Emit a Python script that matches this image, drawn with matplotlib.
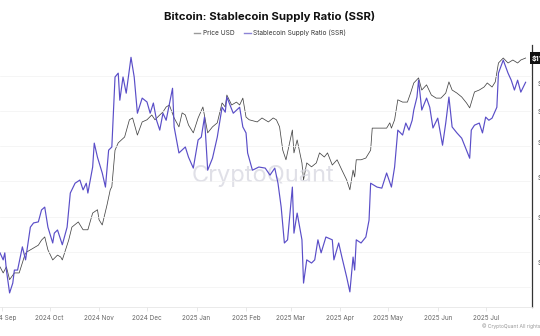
import matplotlib
matplotlib.use("Agg")
import matplotlib.pyplot as plt
import matplotlib.dates as mdates
import matplotlib.transforms as mtransforms
from matplotlib.lines import Line2D
from matplotlib.ticker import FixedLocator, NullLocator
import pandas as pd

plt.rcParams['font.family'] = ['Inter', 'DejaVu Sans']

# Stablecoin Supply Ratio (left axis, labels outside the crop)
ssr_dates = [
    "2024-08-31", "2024-09-02", "2024-09-03", "2024-09-04", "2024-09-06", "2024-09-08", "2024-09-09", "2024-09-11", "2024-09-14", "2024-09-16",
    "2024-09-19", "2024-09-21", "2024-09-24", "2024-09-26", "2024-09-28", "2024-09-30", "2024-10-03", "2024-10-04", "2024-10-06", "2024-10-09",
    "2024-10-12", "2024-10-14", "2024-10-17", "2024-10-20", "2024-10-22", "2024-10-24", "2024-10-25", "2024-10-28", "2024-10-29", "2024-10-31",
    "2024-11-03", "2024-11-05", "2024-11-07", "2024-11-09", "2024-11-11", "2024-11-13", "2024-11-14", "2024-11-16", "2024-11-18", "2024-11-21",
    "2024-11-23", "2024-11-25", "2024-11-28", "2024-12-01", "2024-12-03", "2024-12-05", "2024-12-07", "2024-12-09", "2024-12-11", "2024-12-13",
    "2024-12-17", "2024-12-18", "2024-12-21", "2024-12-25", "2024-12-27", "2024-12-30", "2025-01-02", "2025-01-04", "2025-01-06", "2025-01-08",
    "2025-01-11", "2025-01-14", "2025-01-17", "2025-01-19", "2025-01-20", "2025-01-24", "2025-01-28", "2025-01-30", "2025-02-01", "2025-02-02",
    "2025-02-05", "2025-02-09", "2025-02-13", "2025-02-16", "2025-02-19", "2025-02-21", "2025-02-23", "2025-02-25", "2025-02-27", "2025-03-02",
    "2025-03-03", "2025-03-05", "2025-03-08", "2025-03-09", "2025-03-11", "2025-03-14", "2025-03-16", "2025-03-18", "2025-03-20", "2025-03-23",
    "2025-03-27", "2025-03-28", "2025-03-31", "2025-04-02", "2025-04-05", "2025-04-07", "2025-04-09", "2025-04-10", "2025-04-11", "2025-04-14",
    "2025-04-17", "2025-04-19", "2025-04-20", "2025-04-24", "2025-04-27", "2025-04-30", "2025-05-03", "2025-05-05", "2025-05-07", "2025-05-10",
    "2025-05-12", "2025-05-14", "2025-05-16", "2025-05-17", "2025-05-19", "2025-05-20", "2025-05-22", "2025-05-25", "2025-05-27", "2025-05-29",
    "2025-06-01", "2025-06-04", "2025-06-06", "2025-06-08", "2025-06-10", "2025-06-13", "2025-06-16", "2025-06-19", "2025-06-21", "2025-06-22",
    "2025-06-24", "2025-06-27", "2025-06-29", "2025-07-01", "2025-07-03", "2025-07-05", "2025-07-08", "2025-07-09", "2025-07-12", "2025-07-15",
    "2025-07-17", "2025-07-19", "2025-07-21", "2025-07-23", "2025-07-26",
]
ssr_values = [
    6.97, 6.77, 6.97, 6.48, 5.83, 6.11, 6.48, 6.48, 7.14, 6.77,
    7.70, 7.82, 7.85, 8.19, 8.27, 7.70, 7.25, 7.53, 7.62, 7.20,
    7.70, 8.67, 8.95, 9.04, 8.76, 8.95, 8.67, 9.41, 10.09, 9.69,
    9.24, 8.84, 9.89, 9.98, 11.97, 12.08, 11.31, 11.97, 11.51, 12.53,
    11.97, 10.94, 11.37, 11.26, 10.94, 11.23, 10.74, 10.46, 10.94, 10.74,
    11.65, 10.55, 9.81, 9.98, 9.69, 9.38, 10.18, 10.26, 10.83, 9.32,
    9.66, 10.26, 11.11, 10.97, 11.40, 10.94, 11.11, 10.55, 10.38, 9.81,
    9.32, 9.41, 9.38, 9.18, 9.38, 8.95, 8.27, 7.25, 7.34, 8.84,
    7.53, 8.10, 7.34, 6.11, 6.77, 6.68, 6.77, 7.34, 6.97, 7.42,
    7.34, 6.77, 7.25, 6.85, 6.28, 5.86, 6.85, 6.48, 7.34, 7.25,
    7.42, 7.90, 8.95, 8.84, 8.81, 9.24, 8.84, 9.41, 10.46, 10.32,
    10.66, 10.46, 10.74, 11.03, 11.40, 11.88, 11.03, 11.37, 11.11, 10.52,
    10.80, 10.03, 10.66, 11.40, 10.55, 10.38, 10.23, 9.89, 9.66, 10.46,
    10.60, 10.66, 10.38, 10.83, 10.74, 10.80, 11.11, 12.08, 12.45, 12.08,
    11.88, 11.60, 11.88, 11.54, 11.82,
]

# BTC price, thousands of USD (right axis, log scale)
price_dates = [
    "2024-08-31", "2024-09-02", "2024-09-04", "2024-09-06", "2024-09-09", "2024-09-12", "2024-09-16", "2024-09-19", "2024-09-24", "2024-09-26",
    "2024-09-28", "2024-09-30", "2024-10-03", "2024-10-06", "2024-10-08", "2024-10-09", "2024-10-13", "2024-10-15", "2024-10-19", "2024-10-22",
    "2024-10-25", "2024-10-28", "2024-10-31", "2024-11-01", "2024-11-03", "2024-11-06", "2024-11-08", "2024-11-09", "2024-11-11", "2024-11-13",
    "2024-11-15", "2024-11-17", "2024-11-20", "2024-11-22", "2024-11-25", "2024-11-28", "2024-12-01", "2024-12-04", "2024-12-06", "2024-12-09",
    "2024-12-11", "2024-12-13", "2024-12-15", "2024-12-18", "2024-12-21", "2024-12-23", "2024-12-25", "2024-12-27", "2024-12-30", "2025-01-02",
    "2025-01-05", "2025-01-08", "2025-01-11", "2025-01-14", "2025-01-17", "2025-01-19", "2025-01-20", "2025-01-23", "2025-01-26", "2025-01-28",
    "2025-01-30", "2025-02-01", "2025-02-03", "2025-02-08", "2025-02-11", "2025-02-15", "2025-02-18", "2025-02-20", "2025-02-22", "2025-02-24",
    "2025-02-26", "2025-02-28", "2025-03-02", "2025-03-03", "2025-03-05", "2025-03-08", "2025-03-09", "2025-03-11", "2025-03-14", "2025-03-17",
    "2025-03-19", "2025-03-22", "2025-03-24", "2025-03-27", "2025-03-30", "2025-04-02", "2025-04-05", "2025-04-07", "2025-04-09", "2025-04-10",
    "2025-04-11", "2025-04-14", "2025-04-17", "2025-04-20", "2025-04-21", "2025-04-24", "2025-04-27", "2025-04-30", "2025-05-02", "2025-05-03",
    "2025-05-05", "2025-05-07", "2025-05-10", "2025-05-13", "2025-05-15", "2025-05-17", "2025-05-20", "2025-05-22", "2025-05-25", "2025-05-28",
    "2025-05-31", "2025-06-03", "2025-06-06", "2025-06-08", "2025-06-10", "2025-06-13", "2025-06-16", "2025-06-19", "2025-06-21", "2025-06-24",
    "2025-06-27", "2025-06-30", "2025-07-02", "2025-07-05", "2025-07-07", "2025-07-09", "2025-07-12", "2025-07-15", "2025-07-18", "2025-07-21",
    "2025-07-23", "2025-07-26",
]
price_values = [
    59.0, 57.8, 59.0, 56.5, 57.8, 57.8, 61.9, 62.5, 63.5, 64.6,
    65.3, 62.5, 60.4, 61.4, 61.0, 60.4, 64.6, 67.5, 68.7, 66.9,
    66.9, 70.8, 71.6, 69.2, 68.0, 72.8, 76.6, 77.4, 87.6, 89.8,
    90.7, 91.6, 97.1, 97.7, 92.2, 96.4, 97.1, 98.7, 97.1, 98.7,
    99.7, 101.4, 102.1, 97.7, 94.8, 99.4, 98.7, 95.4, 92.9, 97.7,
    101.4, 92.9, 94.8, 96.1, 102.8, 101.4, 105.6, 102.1, 103.1, 102.1,
    104.5, 98.0, 97.1, 96.4, 97.7, 96.4, 97.7, 97.1, 94.8, 87.6,
    84.8, 89.2, 93.8, 86.8, 90.7, 83.9, 79.2, 83.9, 82.8, 83.9,
    86.8, 85.6, 86.8, 83.3, 84.8, 81.9, 79.2, 76.6, 81.9, 80.0,
    84.8, 84.8, 85.3, 87.6, 94.4, 94.4, 94.4, 94.4, 96.1, 94.4,
    97.1, 103.9, 103.1, 103.1, 106.3, 110.0, 111.9, 107.4, 109.3, 105.6,
    104.5, 104.5, 106.3, 110.4, 107.4, 106.3, 104.9, 102.8, 101.1, 106.7,
    107.4, 108.5, 110.0, 108.5, 110.4, 117.7, 119.7, 117.7, 118.9, 117.7,
    118.9, 119.7,
]

price_ticks = [60, 70, 80, 90, 100, 110]
price_tick_labels = ["$60K", "$70K", "$80K", "$90K", "$100K", "$110K"]
ssr_grid = [6, 7, 8, 9, 10, 11, 12]
last_price_label = "$119,700"

ssr_x = pd.to_datetime(ssr_dates)
price_x = pd.to_datetime(price_dates)

fig = plt.figure(figsize=(5.4, 3.36), dpi=100)
ax = fig.add_axes([0.0, 1 - 307 / 336, 532 / 540, (307 - 45) / 336])
ax2 = ax.twinx()
ax.set_zorder(ax2.get_zorder() + 1)
ax.patch.set_visible(False)

ax2.plot(price_x, price_values, color="#454545", lw=0.55)
ax.plot(ssr_x, ssr_values, color="#5a4ec8", lw=0.85)

ax.set_xlim(pd.Timestamp("2024-08-31"), pd.Timestamp("2025-07-30"))
ax.set_ylim(5.43, 12.88)
ax2.set_yscale("log")
ax2.set_ylim(51.5, 125.1)

# SSR axis: gridlines only
ax.yaxis.set_major_locator(FixedLocator(ssr_grid))
ax.tick_params(axis="y", left=False, labelleft=False)
ax.grid(axis="y", color="#f2f2f2", lw=0.5)
ax.set_axisbelow(True)
for s in ["top", "left", "right"]:
    ax.spines[s].set_visible(False)
ax.spines["bottom"].set_color("#e6e6e6")
ax.spines["bottom"].set_linewidth(0.6)

ax.xaxis.set_major_locator(mdates.MonthLocator())
ax.xaxis.set_major_formatter(mdates.DateFormatter("%Y %b"))
ax.tick_params(axis="x", length=3, width=0.5, color="#dddddd",
               labelsize=4.6, labelcolor="#666666", pad=3)

# price axis on the right
ax2.yaxis.set_major_locator(FixedLocator(price_ticks))
ax2.yaxis.set_minor_locator(NullLocator())
ax2.set_yticklabels(price_tick_labels)
ax2.tick_params(axis="y", length=0, labelsize=5, labelcolor="#333333", pad=4)
for s in ["top", "left", "bottom"]:
    ax2.spines[s].set_visible(False)
ax2.spines["right"].set_color("#333333")
ax2.spines["right"].set_linewidth(0.9)

trans = mtransforms.blended_transform_factory(ax2.transAxes, ax2.transData)
ax2.text(1.0, price_values[-1], last_price_label, transform=trans, ha="left", va="center",
         fontsize=5, color="white", fontweight="bold", clip_on=False,
         bbox=dict(boxstyle="square,pad=0.3", fc="#111111", ec="none"))

ax.text(0.495, 0.5, "CryptoQuant", transform=ax.transAxes, ha="center", va="center",
        fontsize=17, color="#d6d6e0", alpha=0.75, zorder=0)

fig.text(0.5, 1 - 17 / 336, "Bitcoin: Stablecoin Supply Ratio (SSR)", ha="center", va="center",
         fontsize=8.2, fontweight="bold", color="#111111")

handles = [Line2D([], [], color="#9a9a9a", lw=1.0), Line2D([], [], color="#8c84d6", lw=1.0)]
fig.legend(handles, ["Price USD", "Stablecoin Supply Ratio (SSR)"], loc="center",
           bbox_to_anchor=(0.5, 1 - 33 / 336), ncol=2, frameon=False, fontsize=4.7,
           handlelength=1.0, handletextpad=0.4, columnspacing=1.5, labelcolor="#333333")

fig.text(482 / 540, 1 - 326 / 336, "© CryptoQuant All rights reserved.", ha="left", va="center",
         fontsize=3.6, color="#999999")

fig.savefig("out.png", dpi=100)
